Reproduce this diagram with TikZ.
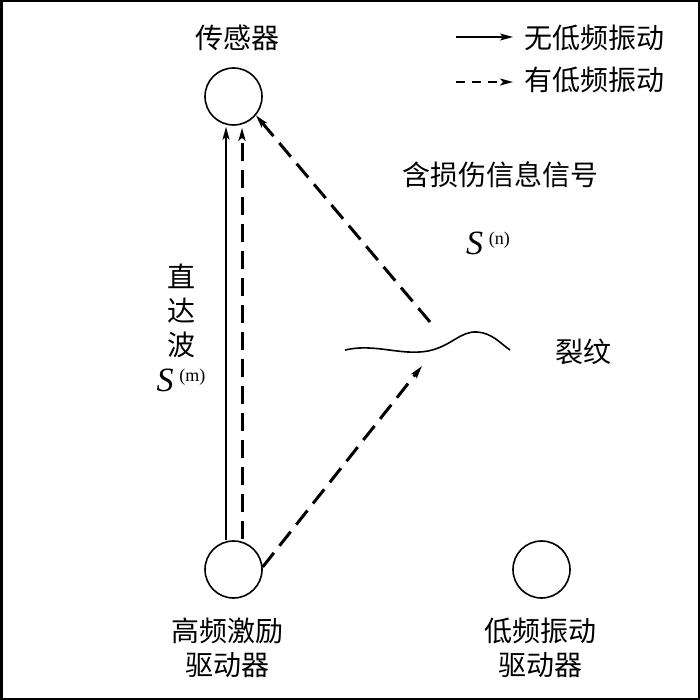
\documentclass[tikz,border=0pt]{standalone}
\usepackage{fontspec}
\setmainfont{Liberation Serif}
\newfontfamily\cjk{Noto Sans CJK SC}
\usetikzlibrary{arrows.meta}
\tikzset{
  dev/.style={draw, circle, line width=1.6pt, minimum size=57pt, inner sep=0pt},
  lbl/.style={font=\cjk\fontsize{28}{34}\selectfont, align=center, inner sep=0pt},
  tip/.style={-{Stealth[length=13pt,width=7pt,inset=3pt]}},
  solidarrow/.style={tip, line width=1.6pt},
  dasharrow/.style={tip, line width=3pt, dash pattern=on 18pt off 9pt},
  sym/.style={font=\fontsize{34}{36}\selectfont, inner sep=0pt}
}
\begin{document}
\begin{tikzpicture}[x=1pt,y=-1pt]
\useasboundingbox (0,0) rectangle (700,700);
\draw[line width=2.5pt] (1.25,1.25) rectangle (698.75,698.75);

% devices
\node[dev] (sen) at (233.5,96.5) {};
\node[dev] (hf) at (233.5,569.5) {};
\node[dev] (lf) at (541.5,569.5) {};

% labels
\node[lbl] (senl) at (237.5,38) {传感器};
\node[lbl] (hfl) at (227.5,648) {高频激励\\驱动器};
\node[lbl] (lfl) at (540.5,648) {低频振动\\驱动器};
\node[lbl] (crackl) at (583,352) {裂纹};
\node[lbl] (dmg) at (500,175) {含损伤信息信号};
\node[lbl] (direct) at (181,311) {直\\达\\波};
\node[sym] (sm) at (181,380) {\textit{S}\,\raisebox{10pt}{\fontsize{18}{18}\selectfont(m)}};
\node[sym] (sn) at (488,243) {\textit{S}\,\raisebox{10pt}{\fontsize{18}{18}\selectfont(n)}};

% crack
\draw[line width=1.6pt] (345,350) .. controls (375,343) and (400,356) .. (428,351)
  .. controls (452,346) and (460,331) .. (477,332)
  .. controls (492,333) and (500,343) .. (510,350);
\coordinate (cin) at (422,366);
\coordinate (cout) at (430,322);

% connectors
\draw[solidarrow] ([xshift=-7.5pt]hf.north) -- ([xshift=-7.5pt,yshift=-1pt]sen.south);
\draw[dasharrow] ([xshift=8.5pt,yshift=1pt]hf.north) -- ([xshift=8.5pt,yshift=-2pt]sen.south);
\draw[dasharrow] (hf.5) -- (cin);
\draw[dasharrow] (cout) -- (sen.-40);

% legend
\coordinate (l1a) at (456,37);
\coordinate (l1b) at (513,37);
\coordinate (l2a) at (456,82);
\coordinate (l2b) at (513,82);
\draw[solidarrow] (l1a) -- (l1b);
\draw[tip, line width=1.8pt, dash pattern=on 9pt off 7pt] (l2a) -- (l2b);
\node[lbl, anchor=west] (leg1) at (524,38) {无低频振动};
\node[lbl, anchor=west] (leg2) at (524,80) {有低频振动};
\end{tikzpicture}
\end{document}
